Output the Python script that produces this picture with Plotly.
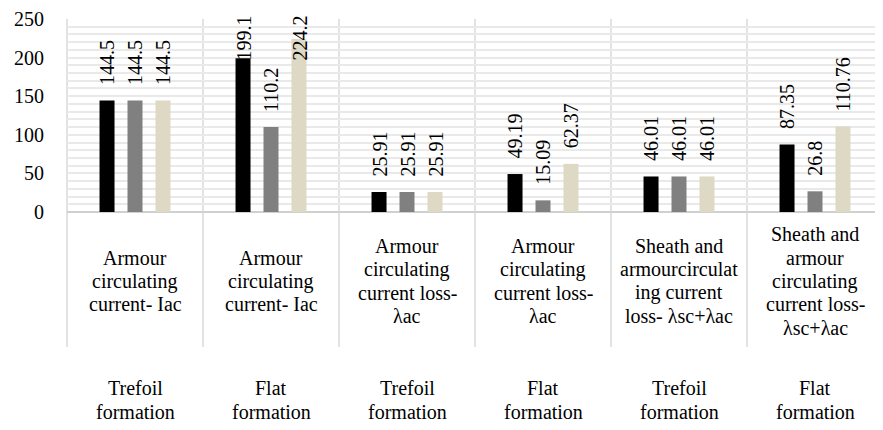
import plotly.graph_objects as go

# ---- data ----
inner_labels = [
    "Armour\ncirculating\ncurrent- Iac",
    "Armour\ncirculating\ncurrent- Iac",
    "Armour\ncirculating\ncurrent loss-\nλac",
    "Armour\ncirculating\ncurrent loss-\nλac",
    "Sheath and\narmourcirculat\ning current\nloss- λsc+λac",
    "Sheath and\narmour\ncirculating\ncurrent loss-\nλsc+λac",
]
outer_labels = [
    "Trefoil\nformation",
    "Flat\nformation",
    "Trefoil\nformation",
    "Flat\nformation",
    "Trefoil\nformation",
    "Flat\nformation",
]
series_a = [144.5, 199.1, 25.91, 49.19, 46.01, 87.35]
series_b = [144.5, 110.2, 25.91, 15.09, 46.01, 26.8]
series_c = [144.5, 224.2, 25.91, 62.37, 46.01, 110.76]
labels_a = ["144.5", "199.1", "25.91", "49.19", "46.01", "87.35"]
labels_b = ["144.5", "110.2", "25.91", "15.09", "46.01", "26.8"]
labels_c = ["144.5", "224.2", "25.91", "62.37", "46.01", "110.76"]
y_major = [0, 50, 100, 150, 200, 250]
y_grid = list(range(0, 251, 10))

# ---- style ----
FONT = "Liberation Serif"
colors = ["#000000", "#808080", "#ddd9c4"]
W, H = 875, 422          # page body has an 8px margin
ML, MR, MT, MB = 59, 0, 11, 218
plot_h = H - MT - MB
ymax = 250
n = len(inner_labels)
x_pos = list(range(n))

fig = go.Figure()
for vals, col in zip([series_a, series_b, series_c], colors):
    fig.add_trace(go.Bar(x=x_pos, y=vals, marker_color=col, marker_line_width=0,
                         hoverinfo="skip"))

annotations = []
slot = 28
for k, (vals, labs) in enumerate(zip([series_a, series_b, series_c],
                                     [labels_a, labels_b, labels_c])):
    for i, (v, t) in enumerate(zip(vals, labs)):
        if v > ymax - 70:
            annotations.append(dict(x=i, y=1, yref="paper", xref="x", text=t,
                                    textangle=-90, showarrow=False,
                                    xshift=(k - 1) * slot, yanchor="top", yshift=5,
                                    font=dict(family=FONT, size=20)))
        else:
            annotations.append(dict(x=i, y=v, xref="x", yref="y", text=t,
                                    textangle=-90, showarrow=False,
                                    xshift=(k - 1) * slot, yanchor="bottom", yshift=13,
                                    font=dict(family=FONT, size=20)))

line_sp = 23.3
def add_block(i, text, center_px):
    lines = text.split("\n")
    m = len(lines)
    for j, ln in enumerate(lines):
        off = center_px + (j - (m - 1) / 2) * line_sp
        annotations.append(dict(x=(i + 0.5) / n, xref="paper", y=0, yref="paper",
                                text=ln, showarrow=False, yanchor="middle",
                                xanchor="center", yshift=-off,
                                font=dict(family=FONT, size=20)))

for i, (a, b) in enumerate(zip(inner_labels, outer_labels)):
    add_block(i, a, 69)
    add_block(i, b, 188)

shapes = []
div_bottom = -(347 - 212) / plot_h
for i in range(n + 1):
    shapes.append(dict(type="line", xref="paper", yref="paper", x0=i / n, x1=i / n,
                       y0=1, y1=div_bottom, line=dict(color="#d9d9d9", width=1.5),
                       layer="below"))
shapes.append(dict(type="line", xref="paper", yref="paper",
                   x0=(878 - 67) / 816, x1=1, y0=div_bottom, y1=div_bottom,
                   line=dict(color="#d9d9d9", width=1.5)))

fig.update_layout(
    width=W, height=H,
    font=dict(family=FONT, size=20, color="#000000"),
    margin=dict(l=ML, r=MR, t=MT, b=MB),
    plot_bgcolor="white", paper_bgcolor="white",
    showlegend=False,
    barmode="group", bargap=0.383, bargroupgap=0.464,
    annotations=annotations, shapes=shapes,
    xaxis=dict(range=[-0.5, n - 0.5], showticklabels=False, showgrid=False,
               zeroline=False, showline=False, ticks=""),
    yaxis=dict(range=[0, ymax], tickmode="array", tickvals=y_grid,
               ticktext=[str(v) if v in y_major else "" for v in y_grid],
               ticks="outside", ticklen=18, tickcolor="rgba(0,0,0,0)",
               showline=False,
               tickfont=dict(family=FONT, size=20),
               gridcolor="#e9e9e9", gridwidth=1.5,
               zeroline=True, zerolinecolor="#d0d0d0", zerolinewidth=2),
)

fig.write_html("out.html")
